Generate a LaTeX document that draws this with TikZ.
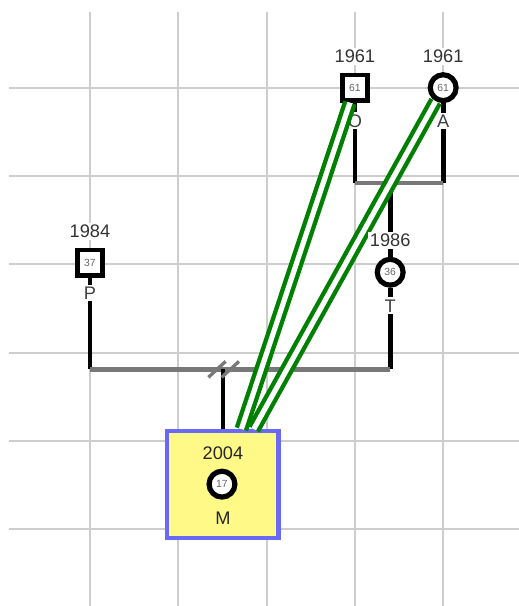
\documentclass[tikz,border=0pt]{standalone}
\usepackage{fontspec}
\setmainfont{Liberation Sans}
\usepackage{tikz}

\definecolor{gridgray}{RGB}{205,205,205}
\definecolor{linkgray}{RGB}{120,120,120}
\definecolor{twingreen}{RGB}{0,128,0}
\definecolor{boxyellow}{RGB}{255,250,135}
\definecolor{boxblue}{RGB}{105,105,245}

\begin{document}
\begin{tikzpicture}[x=1.5cm,y=1.5cm,
  gridline/.style={gridgray, line width=1pt},
  male/.style={draw, rectangle, fill=white, line width=2.3pt, minimum size=12.2pt,
    inner sep=0pt, text=black!60, font=\fontsize{5}{6}\selectfont},
  female/.style={draw, circle, fill=white, line width=2.5pt, minimum size=12.5pt,
    inner sep=0pt, text=black!60, font=\fontsize{5}{6}\selectfont},
  childbox/.style={draw=boxblue, fill=boxyellow, line width=2.1pt,
    minimum width=53.8pt, minimum height=51.6pt},
  birth/.style={fill=white, inner sep=1pt, text=black!80, font=\fontsize{8.8}{10}\selectfont},
  tag/.style={fill=white, inner sep=1pt, text=black!75, font=\fontsize{8.8}{10}\selectfont},
  descent/.style={line width=2.3pt},
  marriage/.style={linkgray, line width=2.2pt},
  twin/.style={twingreen, line width=2.1pt, double=white, double distance=2.5pt}]

\useasboundingbox (-1.019,-5.870) rectangle (4.858,0.993);

%% grid
\foreach \y in {0,...,5}
  \draw[gridline] (-0.917,-\y) -- (4.858,-\y);
\foreach \x in {0,...,4}
  \draw[gridline] (\x,0.857) -- (\x,-5.870);

%% people
\node[male]   (O) at (3,0)        {61};   %% o
\node[female] (A) at (4,0)        {61};   %% a
\node[male]   (P) at (0,-1.98)    {37};   %% p
\node[female] (T) at (3.4,-2.09)  {36};   %% t
\node[childbox] (M) at (1.506,-4.496) {}; %% m

%% couples
\coordinate (oa) at (3.5,-1.08);
\coordinate (pt) at (1.5,-3.19);
\coordinate (div) at (M.north |- pt);

\draw[descent] (O) -- (O |- oa);
\draw[descent] (A) -- (A |- oa);
\draw[descent] (T) -- (T |- oa);
\draw[marriage] (O |- oa) -- (A |- oa);

\draw[descent] (P) -- (P |- pt);
\draw[descent] (T) -- (T |- pt);
\draw[marriage] (P |- pt) -- (T |- pt);
\draw[descent, line width=1.8pt] (div) -- (M.north);

%% divorce marks
\draw[marriage, line width=1.6pt] ([shift={(-0.165,-0.09)}]div) -- ++(0.195,0.18);
\draw[marriage, line width=1.6pt] ([shift={(-0.014,-0.09)}]div) -- ++(0.195,0.18);

%% names
\node[tag]   (Oname) at (3,-0.377)     {O};
\node[tag]   (Aname) at (4,-0.377)     {A};
\node[tag]   (Pname) at (0,-2.325)     {P};
\node[tag]   (Tname) at (3.4,-2.47)    {T};

%% twin links
\draw[twin] (O) -- (M);
\draw[twin] (A) -- (M);

%% birth years
\node[birth] (Oyear) at (3,0.351)      {1961};
\node[birth] (Ayear) at (4,0.351)      {1961};
\node[birth] (Pyear) at (0,-1.631)     {1984};
\node[birth] (Tyear) at (3.4,-1.733)   {1986};

%% inside the box
\node[birth, fill=none, text=black!85] (Myear) at (1.506,-4.137) {2004};
\node[female] (Mself) at (1.495,-4.49) {17};
\node[tag, fill=none, text=black!85] (Mname) at (1.506,-4.874) {M};
\end{tikzpicture}
\end{document}
